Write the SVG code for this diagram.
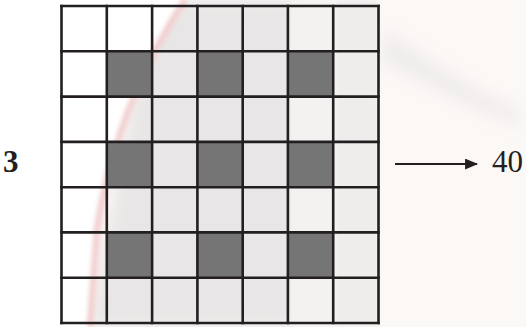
<svg xmlns="http://www.w3.org/2000/svg" width="526" height="327" viewBox="0 0 526 327">
  <style>
    .grid line { stroke: #231f20; stroke-width: 2.6; stroke-linecap: square; }
    .dark { fill: #767576; }
    .lbl { font-family: "Liberation Serif", "Times New Roman", serif; font-size: 31px; fill: #231f20; }
    .conn { stroke: #231f20; stroke-width: 2; fill: none; }
  </style>
  <defs>
    <filter id="blur8" x="-20%" y="-20%" width="140%" height="140%">
      <feGaussianBlur stdDeviation="8"/>
    </filter>
    <filter id="blur2" x="-20%" y="-20%" width="140%" height="140%">
      <feGaussianBlur stdDeviation="2"/>
    </filter>
    <marker id="arrow" viewBox="0 0 12 10" refX="11" refY="5" markerWidth="13" markerHeight="11" markerUnits="userSpaceOnUse" orient="auto">
      <path d="M0,0 L12,5 L0,10 Z" fill="#231f20"/>
    </marker>
  </defs>

  <!-- faint watermark background -->
  <g id="background">
    <rect x="0" y="0" width="526" height="327" fill="#fcf8f6"/>
    <path d="M150,0 L300,0 L300,327 L90,327 Z" fill="#e8e6e6" filter="url(#blur8)"/>
    <rect x="290" y="0" width="44" height="327" fill="#f4f2f1" filter="url(#blur2)"/>
    <rect x="336" y="0" width="42" height="327" fill="#efedec" filter="url(#blur2)"/>
    <path d="M385,30 C430,60 470,90 520,110 L520,125 C470,110 420,80 380,60 Z" fill="#e9e7e7" opacity="0.7" filter="url(#blur8)"/>
    <path d="M0,0 L183,0 C150,50 110,130 95,230 L88,327 L0,327 Z" fill="#ffffff"/>
    <path d="M185,0 C152,50 112,130 97,230 L90,327" fill="none" stroke="#f3d2d2" stroke-width="7" filter="url(#blur2)"/>
  </g>

  <g id="grid" class="grid">
    <rect class="dark" x="106.8" y="51.3" width="45.3" height="45.3"/>
    <rect class="dark" x="197.4" y="51.3" width="45.3" height="45.3"/>
    <rect class="dark" x="287.9" y="51.3" width="45.3" height="45.3"/>
    <rect class="dark" x="106.8" y="141.9" width="45.3" height="45.3"/>
    <rect class="dark" x="197.4" y="141.9" width="45.3" height="45.3"/>
    <rect class="dark" x="287.9" y="141.9" width="45.3" height="45.3"/>
    <rect class="dark" x="106.8" y="232.4" width="45.3" height="45.3"/>
    <rect class="dark" x="197.4" y="232.4" width="45.3" height="45.3"/>
    <rect class="dark" x="287.9" y="232.4" width="45.3" height="45.3"/>
    <line x1="61.5" y1="6" x2="61.5" y2="323"/>
    <line x1="106.8" y1="6" x2="106.8" y2="323"/>
    <line x1="152.1" y1="6" x2="152.1" y2="323"/>
    <line x1="197.4" y1="6" x2="197.4" y2="323"/>
    <line x1="242.7" y1="6" x2="242.7" y2="323"/>
    <line x1="287.9" y1="6" x2="287.9" y2="323"/>
    <line x1="333.2" y1="6" x2="333.2" y2="323"/>
    <line x1="378.5" y1="6" x2="378.5" y2="323"/>
    <line x1="61.5" y1="6" x2="378.5" y2="6"/>
    <line x1="61.5" y1="51.3" x2="378.5" y2="51.3"/>
    <line x1="61.5" y1="96.6" x2="378.5" y2="96.6"/>
    <line x1="61.5" y1="141.9" x2="378.5" y2="141.9"/>
    <line x1="61.5" y1="187.2" x2="378.5" y2="187.2"/>
    <line x1="61.5" y1="232.4" x2="378.5" y2="232.4"/>
    <line x1="61.5" y1="277.7" x2="378.5" y2="277.7"/>
    <line x1="61.5" y1="323" x2="378.5" y2="323"/>
  </g>

  <g id="label-3">
    <text class="lbl" x="3" y="172" font-weight="bold">3</text>
  </g>

  <g id="connectors">
    <line class="conn" x1="395" y1="164" x2="477" y2="164" marker-end="url(#arrow)"/>
  </g>

  <g id="label-40">
    <text class="lbl" x="492" y="172">40</text>
  </g>
</svg>
